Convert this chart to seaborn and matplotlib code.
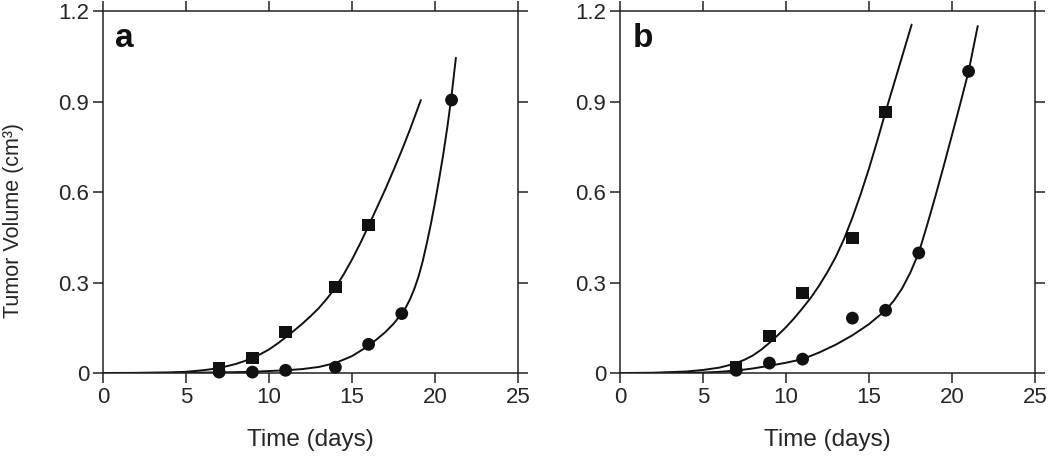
import matplotlib
matplotlib.use("Agg")
import matplotlib.pyplot as plt
import seaborn as sns

# measured points (days)
days_sq = [7, 9, 11, 14, 16]
days_ci = [7, 9, 11, 14, 16, 18, 21]

a_sq = [0.015, 0.05, 0.136, 0.285, 0.49]
a_ci = [0.003, 0.003, 0.009, 0.019, 0.095, 0.197, 0.905]
b_sq = [0.02, 0.122, 0.265, 0.448, 0.865]
b_ci = [0.009, 0.033, 0.046, 0.182, 0.208, 0.398, 1.0]

# fitted curves
a_sq_fit_t = [0, 2, 4, 5, 6, 6.5, 7, 7.5, 8, 8.5, 9, 9.5, 10, 10.5, 11, 11.5, 12, 12.5, 13,
              13.5, 14, 14.5, 15, 15.5, 16, 16.5, 17, 17.5, 18, 18.5, 19.15]
a_sq_fit_v = [0, 0.0005, 0.002, 0.004, 0.009, 0.0125, 0.017, 0.023, 0.03, 0.039, 0.05, 0.063,
              0.078, 0.097, 0.118, 0.14, 0.163, 0.188, 0.215, 0.247, 0.283, 0.327, 0.376, 0.43,
              0.488, 0.548, 0.608, 0.672, 0.738, 0.808, 0.905]
a_ci_fit_t = [0, 4, 7, 9, 11, 12, 13, 14, 15, 16, 16.5, 17, 17.5, 18, 18.25, 18.5, 18.75, 19,
              19.25, 19.5, 19.75, 20, 20.25, 20.5, 20.75, 21, 21.26]
a_ci_fit_v = [0, 0.0003, 0.002, 0.004, 0.009, 0.013, 0.02, 0.033, 0.056, 0.09, 0.112, 0.135,
              0.163, 0.197, 0.218, 0.245, 0.278, 0.318, 0.368, 0.428, 0.493, 0.565, 0.643,
              0.725, 0.817, 0.92, 1.045]
b_sq_fit_t = [0, 2, 4, 5, 6, 6.5, 7, 7.5, 8, 8.5, 9, 9.5, 10, 10.5, 11, 11.5, 12, 12.5, 13,
              13.5, 14, 14.5, 15, 15.5, 16, 16.5, 17, 17.57]
b_sq_fit_v = [0, 0.0008, 0.005, 0.01, 0.018, 0.025, 0.033, 0.044, 0.058, 0.077, 0.1, 0.125,
              0.152, 0.182, 0.215, 0.25, 0.29, 0.335, 0.385, 0.445, 0.515, 0.593, 0.678, 0.77,
              0.866, 0.958, 1.05, 1.155]
b_ci_fit_t = [0, 2, 4, 5, 6, 7, 8, 9, 10, 11, 12, 13, 14, 15, 16, 16.5, 17, 17.5, 18, 18.5,
              19, 19.5, 20, 20.5, 21, 21.55]
b_ci_fit_v = [0, 0.0002, 0.0008, 0.0015, 0.004, 0.008, 0.015, 0.024, 0.034, 0.046, 0.068,
              0.094, 0.125, 0.162, 0.208, 0.24, 0.281, 0.334, 0.399, 0.49, 0.586, 0.686,
              0.789, 0.893, 1.0, 1.15]

x_ticks = [0, 5, 10, 15, 20, 25]
y_ticks = [0, 0.3, 0.6, 0.9, 1.2]
y_labels = ["0", "0.3", "0.6", "0.9", "1.2"]

sns.set_theme(style="ticks")
plt.rcParams["font.family"] = ["Liberation Sans", "DejaVu Sans"]

fig = plt.figure(figsize=(10.5, 4.57), dpi=100)
ax_a = fig.add_axes([0.0981, 0.1838, 0.3952, 0.7921])
ax_b = fig.add_axes([0.5905, 0.1838, 0.3952, 0.7921])

panels = [
    (ax_a, "a", a_sq, a_ci, a_sq_fit_t, a_sq_fit_v, a_ci_fit_t, a_ci_fit_v),
    (ax_b, "b", b_sq, b_ci, b_sq_fit_t, b_sq_fit_v, b_ci_fit_t, b_ci_fit_v),
]

for ax, letter, sq, ci, st, sv, ct, cv in panels:
    sns.lineplot(x=st, y=sv, sort=False, color="#111111", linewidth=1.4, ax=ax)
    sns.lineplot(x=ct, y=cv, sort=False, color="#111111", linewidth=1.4, ax=ax)
    sns.scatterplot(x=days_sq, y=sq, marker="s", s=80, color="#111111", edgecolor="none",
                    ax=ax, zorder=3, clip_on=False)
    sns.scatterplot(x=days_ci, y=ci, marker="o", s=85, color="#111111", edgecolor="none",
                    ax=ax, zorder=3, clip_on=False)
    ax.set_xlim(0, 25)
    ax.set_ylim(0, 1.2)
    ax.set_xticks(x_ticks)
    ax.set_yticks(y_ticks)
    ax.set_yticklabels(y_labels)
    ax.tick_params(axis="both", which="major", direction="out", length=7, width=1.1,
                   labelsize=16, top=True, right=True, color="#222222", pad=3)
    for sp in ax.spines.values():
        sp.set_visible(True)
        sp.set_linewidth(1.1)
        sp.set_color("#222222")
    ax.set_xlabel("Time (days)", fontsize=17.5, labelpad=15)
    ax.text(0.03, 0.9, letter, transform=ax.transAxes, fontsize=24, fontweight="bold",
            color="#111111")

ax_a.set_ylabel("Tumor Volume (cm³)", fontsize=15.5)
ax_a.yaxis.set_label_coords(-0.19, 0.42)
ax_b.set_ylabel("")

fig.savefig("out.png", dpi=100)
